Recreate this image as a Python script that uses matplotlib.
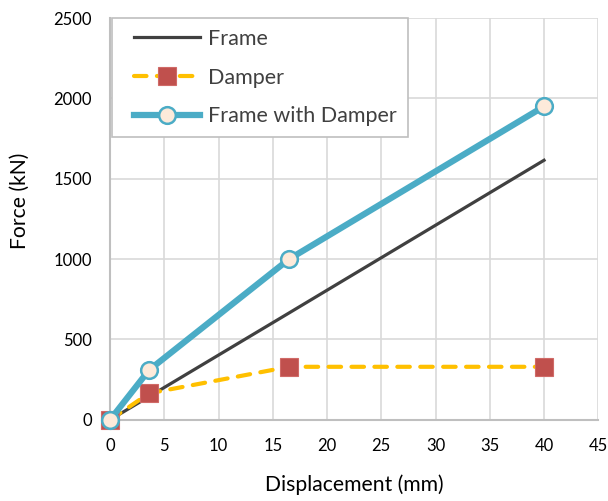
import matplotlib
matplotlib.use("Agg")
from matplotlib import pyplot as plt
from matplotlib.lines import Line2D
from matplotlib.legend_handler import HandlerLine2D

plt.rcParams['font.family'] = ['Lato', 'DejaVu Sans']

# data
disp = [0, 3.6, 16.5, 40]
frame = [0, 145, 665, 1615]
damper = [0, 165, 330, 330]
frame_damper = [0, 310, 1000, 1950]

fig = plt.figure(figsize=(6.08, 5.01), dpi=100)
ax = fig.add_axes([0.181, 0.162, 0.803, 0.802])

ax.plot(disp, frame, color='#404040', linewidth=2.3, label='Frame', zorder=3,
        clip_on=False)
ax.plot(disp, damper, color='#FFC000', linewidth=3, linestyle=(0, (3, 2.5)),
        dash_capstyle='round', marker='s', markersize=13, markerfacecolor='#C0504D',
        markeredgecolor='#D06A67', markeredgewidth=0.8, label='Damper', zorder=4,
        clip_on=False)
ax.plot(disp, frame_damper, color='#4BACC6', linewidth=4.5, marker='o', markersize=12,
        markerfacecolor='#FDEADA', markeredgecolor='#4BACC6', markeredgewidth=1.8,
        label='Frame with Damper', zorder=5, clip_on=False)

ax.set_xlim(0, 45)
ax.set_ylim(0, 2500)
ax.set_xticks(range(0, 50, 5))
ax.set_yticks(range(0, 2501, 500))
ax.grid(color='#D9D9D9', linewidth=1.2)
ax.set_axisbelow(True)
for s in ['top', 'right']:
    ax.spines[s].set_visible(False)
for s in ['left', 'bottom']:
    ax.spines[s].set_color('#BFBFBF')
    ax.spines[s].set_linewidth(1.5)
ax.tick_params(length=0, labelsize=12, colors='#000000', pad=13)

ax.set_xlabel('Displacement (mm)', fontsize=15.2)
ax.set_ylabel('Force (kN)', fontsize=15.2)
ax.xaxis.set_label_coords(0.5, -0.135)
ax.yaxis.set_label_coords(-0.165, 0.545)

leg = ax.legend(loc='upper left', bbox_to_anchor=(0.0, 1.005), fontsize=15.5,
                frameon=True, fancybox=False, edgecolor='#BFBFBF', framealpha=1,
                handlelength=3.6, borderpad=0.5, labelspacing=0.87, handletextpad=0.35,
                borderaxespad=0.1, handler_map={Line2D: HandlerLine2D(xpad=0.5)})
leg.get_frame().set_linewidth(1.2)
leg.set_zorder(10)
for t in leg.get_texts():
    t.set_color('#404040')

fig.savefig('out.png', dpi=100)
